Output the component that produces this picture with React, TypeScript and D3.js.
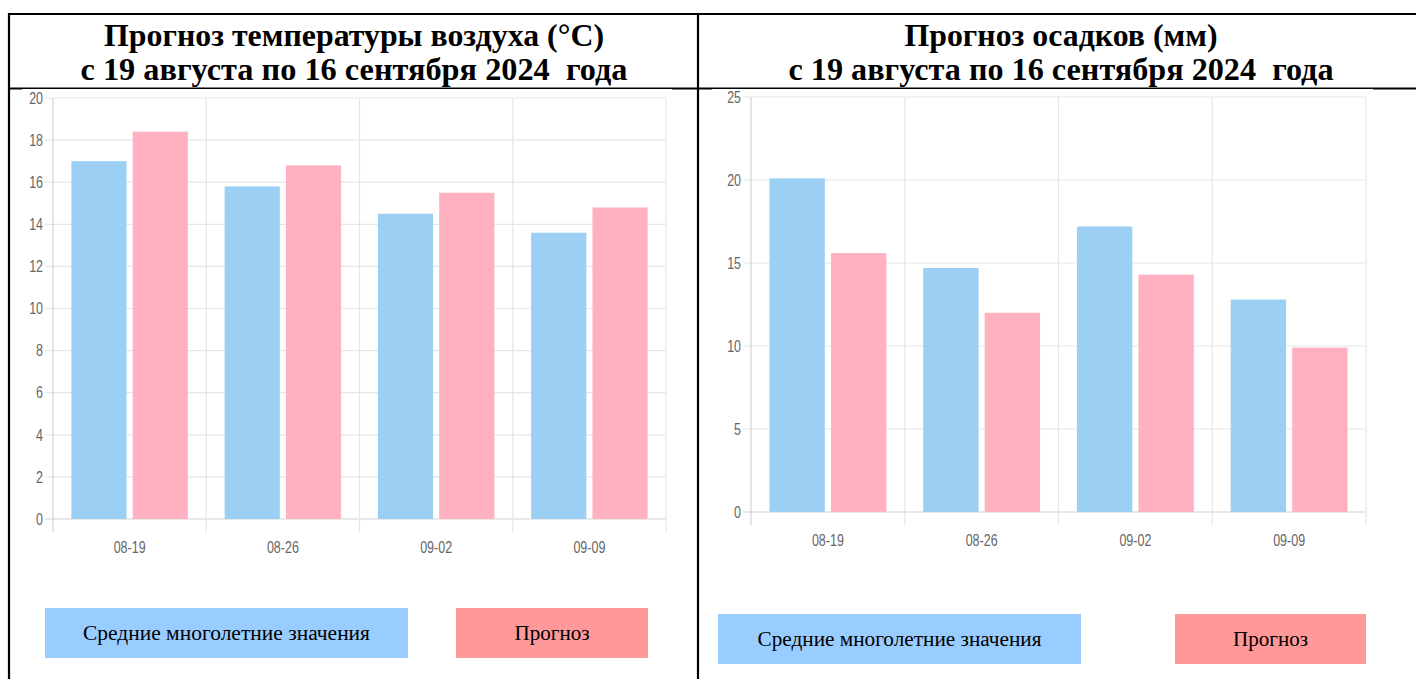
import * as d3 from 'd3';

const categories = ['08-19', '08-26', '09-02', '09-09'];
const seriesKeys = ['norm', 'forecast'];

const tempNorm = [17.0, 15.8, 14.5, 13.6];
const tempForecast = [18.4, 16.8, 15.5, 14.8];
const tempTicks = [0, 2, 4, 6, 8, 10, 12, 14, 16, 18, 20];

const precipNorm = [20.1, 14.7, 17.2, 12.8];
const precipForecast = [15.6, 12.0, 14.3, 9.9];
const precipTicks = [0, 5, 10, 15, 20, 25];

const legendLabels = ['Средние многолетние значения', 'Прогноз'];

const BAR_COLORS = ['#9ccff4', '#ffb1c2'];
const LEGEND_COLORS = ['#99ccff', '#ff9999'];
const GRID = '#e6e6e6';
const ZERO = '#d2d2d2';
const TICK_FONT = '"Liberation Sans", Arial, sans-serif';
const SERIF = '"Liberation Serif", "Times New Roman", serif';

interface ChartProps {
  left: number;
  right: number;
  top: number;
  bottom: number;
  max: number;
  ticks: number[];
  norm: number[];
  forecast: number[];
  labelY: number;
}

// condensed tick label (the source uses a narrow face)
function TickText({ x, y, anchor, children }: { x: number; y: number; anchor: string; children: any }) {
  return (
    <text
      transform={`translate(${x},${y}) scale(0.78,1)`}
      dy="0.36em"
      textAnchor={anchor}
      fontFamily={TICK_FONT}
      fontSize={16}
      fill="#666"
    >
      {children}
    </text>
  );
}

function BarChart({ left, right, top, bottom, max, ticks, norm, forecast, labelY }: ChartProps) {
  const x0 = d3.scaleBand<string>().domain(categories).range([left, right]).padding(0);
  const bw = x0.bandwidth();
  // chart.js style: categoryPercentage 0.8, barPercentage 0.9
  const x1 = d3
    .scaleBand<string>()
    .domain(seriesKeys)
    .range([bw * 0.1, bw * 0.9])
    .paddingInner(0.1)
    .paddingOuter(0.05);
  const y = d3.scaleLinear().domain([0, max]).range([bottom, top]);

  const rows = categories.map((c, i) => ({ c, vals: [norm[i], forecast[i]] }));

  return (
    <g>
      {/* horizontal grid */}
      {ticks.map((t) => (
        <line
          key={'h' + t}
          x1={left - 8}
          x2={right}
          y1={y(t)}
          y2={y(t)}
          stroke={t === 0 ? ZERO : GRID}
          strokeWidth={1.2}
        />
      ))}
      {/* vertical grid at band edges */}
      {[...categories.map((c) => x0(c) as number), right].map((v, i) => (
        <line key={'v' + i} x1={v} x2={v} y1={top} y2={bottom + 13} stroke={i === 0 ? ZERO : GRID} strokeWidth={1.2} />
      ))}
      {/* bars */}
      {rows.map((r) =>
        r.vals.map((v, k) => (
          <rect
            key={r.c + k}
            x={(x0(r.c) as number) + (x1(seriesKeys[k]) as number)}
            y={y(v)}
            width={x1.bandwidth()}
            height={bottom - y(v)}
            fill={BAR_COLORS[k]}
          />
        ))
      )}
      {ticks.map((t) => (
        <TickText key={'yl' + t} x={left - 10} y={y(t)} anchor="end">
          {t}
        </TickText>
      ))}
      {categories.map((c) => (
        <TickText key={'xl' + c} x={(x0(c) as number) + bw / 2} y={labelY} anchor="middle">
          {c}
        </TickText>
      ))}
    </g>
  );
}

function Legend({ boxes, baseline }: { boxes: { x: number; y: number; w: number; tw: number }[]; baseline: number }) {
  return (
    <g>
      {boxes.map((b, i) => (
        <g key={i}>
          <rect x={b.x} y={b.y} width={b.w} height={50} fill={LEGEND_COLORS[i]} />
          <text
            x={b.x + b.w / 2}
            y={baseline}
            textAnchor="middle"
            fontFamily={SERIF}
            fontSize={20}
            textLength={b.tw}
            lengthAdjust="spacingAndGlyphs"
            fill="#000"
          >
            {legendLabels[i]}
          </text>
        </g>
      ))}
    </g>
  );
}

function Title({ cx, lines }: { cx: number; lines: { text: string; w: number }[] }) {
  return (
    <g>
      {lines.map((l, i) => (
        <text
          key={i}
          x={cx}
          y={i === 0 ? 46 : 80}
          textAnchor="middle"
          fontFamily={SERIF}
          fontWeight="bold"
          fontSize={32}
          textLength={l.w}
          lengthAdjust="spacingAndGlyphs"
          style={{ whiteSpace: 'pre' }}
          fill="#000"
        >
          {l.text}
        </text>
      ))}
    </g>
  );
}

export default function App() {
  const W = 1416;
  const H = 679;
  return (
    <svg width={W} height={H} style={{ position: 'fixed', left: 0, top: 0, background: '#fff' }}>
      <rect width={W} height={H} fill="#fff" />
      {/* table borders */}
      <line x1={8} x2={W} y1={14} y2={14} stroke="#000" strokeWidth={2.2} />
      <line x1={9} x2={9} y1={13} y2={H} stroke="#000" strokeWidth={2.2} />
      <line x1={698} x2={698} y1={13} y2={H} stroke="#000" strokeWidth={2.2} />
      <line x1={9} x2={W} y1={88.5} y2={88.5} stroke="#000" strokeWidth={2} />
      {/* chart image backgrounds */}
      <rect x={22} y={89} width={650} height={590 - 89} fill="#fff" />
      <rect x={712} y={89} width={661} height={590 - 89} fill="#fff" />

      <Title
        cx={354}
        lines={[
          { text: 'Прогноз температуры воздуха (°С)', w: 500 },
          { text: 'с 19 августа по 16 сентября 2024  года', w: 547 },
        ]}
      />
      <Title
        cx={1061}
        lines={[
          { text: 'Прогноз осадков (мм)', w: 313 },
          { text: 'с 19 августа по 16 сентября 2024  года', w: 545 },
        ]}
      />

      <BarChart
        left={53}
        right={666}
        top={98}
        bottom={519}
        max={20}
        ticks={tempTicks}
        norm={tempNorm}
        forecast={tempForecast}
        labelY={547}
      />
      <BarChart
        left={751}
        right={1366}
        top={97}
        bottom={512}
        max={25}
        ticks={precipTicks}
        norm={precipNorm}
        forecast={precipForecast}
        labelY={540}
      />

      <Legend
        baseline={640}
        boxes={[
          { x: 45, y: 608, w: 363, tw: 287 },
          { x: 456, y: 608, w: 192, tw: 75 },
        ]}
      />
      <Legend
        baseline={646}
        boxes={[
          { x: 718, y: 614, w: 363, tw: 284 },
          { x: 1175, y: 614, w: 191, tw: 75 },
        ]}
      />
    </svg>
  );
}
